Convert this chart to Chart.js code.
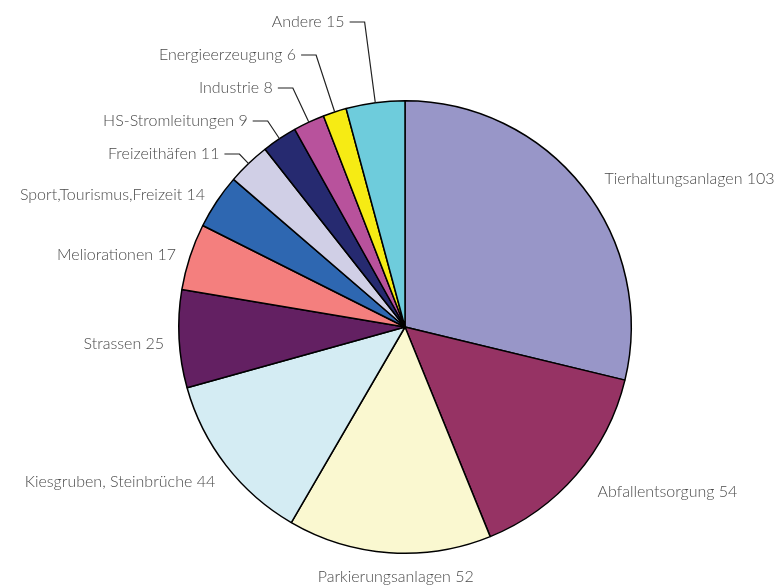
<!DOCTYPE html>
<html>
<head>
<meta charset="utf-8">
<script src="https://cdn.jsdelivr.net/npm/chart.js@4"></script>
<style>
  html, body { margin: 0; padding: 0; background: #fff; }
  #wrap { width: 782px; height: 585px; }
</style>
</head>
<body>
<div id="wrap"><canvas id="pie"></canvas></div>
<script>
const categories = [
  "Tierhaltungsanlagen", "Abfallentsorgung", "Parkierungsanlagen",
  "Kiesgruben, Steinbrüche", "Strassen", "Meliorationen",
  "Sport,Tourismus,Freizeit", "Freizeithäfen", "HS-Stromleitungen",
  "Industrie", "Energieerzeugung", "Andere"
];
const values = [103, 54, 52, 44, 25, 17, 14, 11, 9, 8, 6, 15];
const colors = [
  "#9896c8", "#963364", "#faf8d0", "#d4ecf3", "#632062", "#f47f7e",
  "#2e67b1", "#d0cfe6", "#262a70", "#b8529c", "#f6eb14", "#6eccdc"
];
// slices from this index on get a leader line
const leaderFrom = 7;

// draws "Name value" labels round the pie
const outsideLabels = {
  id: "outsideLabels",
  afterDatasetsDraw(chart) {
    const ctx = chart.ctx;
    const meta = chart.getDatasetMeta(0);
    ctx.save();
    ctx.font = "300 16px Lato";
    ctx.fillStyle = "#4a4a4a";
    ctx.strokeStyle = "#222";
    ctx.lineWidth = 1.2;
    ctx.textBaseline = "middle";
    meta.data.forEach((arc, i) => {
      const text = categories[i] + " " + values[i];
      const mid = (arc.startAngle + arc.endAngle) / 2;
      const cx = arc.x, cy = arc.y, r = arc.outerRadius;
      const dx = Math.cos(mid), dy = Math.sin(mid);
      if (i < leaderFrom) {
        const px = cx + dx * (r + 20);
        const py = cy + dy * (r + 20);
        if (Math.abs(dx) < 0.2) ctx.textAlign = "center";
        else ctx.textAlign = dx > 0 ? "left" : "right";
        ctx.fillText(text, px + (dx > 0.2 ? 6 : (dx < -0.2 ? 5 : 8)), py + 4);
      } else {
        const k = i - leaderFrom;
        const ey = 154 - k * 33;
        const ex = cx + dx * (ey - cy) / dy;
        const sx = cx + dx * r, sy = cy + dy * r;
        ctx.beginPath();
        ctx.moveTo(sx, sy);
        ctx.lineTo(ex, ey);
        ctx.lineTo(ex - 15, ey);
        ctx.stroke();
        ctx.textAlign = "right";
        ctx.fillText(text, ex - 20, ey);
      }
    });
    ctx.restore();
  }
};

new Chart(document.getElementById("pie"), {
  type: "pie",
  data: {
    labels: categories,
    datasets: [{
      data: values,
      backgroundColor: colors,
      borderColor: "#000",
      borderWidth: 1.5
    }]
  },
  options: {
    responsive: true,
    maintainAspectRatio: false,
    animation: false,
    layout: { padding: { left: 178, right: 150, top: 100, bottom: 31 } },
    plugins: {
      legend: { display: false },
      tooltip: { enabled: false }
    }
  },
  plugins: [outsideLabels]
});
</script>
</body>
</html>
